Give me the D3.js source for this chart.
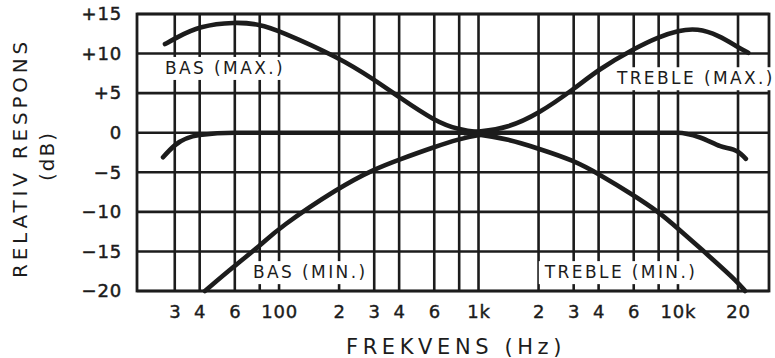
<!DOCTYPE html>
<html>
<head>
<meta charset="utf-8">
<script src="https://cdn.jsdelivr.net/npm/d3@7/dist/d3.min.js"></script>
<style>
  html, body { margin: 0; padding: 0; background: #fff; }
  svg { display: block; }
  text { font-family: "DejaVu Sans", sans-serif; fill: #1c1c1c; }
</style>
</head>
<body>
<div id="chart"></div>
<script>
// grid + tick labels
const gridFreqs = [30, 40, 60, 80, 100, 200, 300, 400, 600, 800, 1000, 2000, 3000, 4000, 6000, 8000, 10000, 20000];
const xTickFreqs = [30, 40, 60, 100, 200, 300, 400, 600, 1000, 2000, 3000, 4000, 6000, 10000, 20000];
const xTickLabels = ["3", "4", "6", "100", "2", "3", "4", "6", "1k", "2", "3", "4", "6", "10k", "20"];
const yTicks = [15, 10, 5, 0, -5, -10, -15, -20];

// curves (Hz, dB)
const basMaxFreq = [26.8, 30, 40, 60, 80, 100, 200, 300, 400, 600, 800, 1000, 1200];
const basMaxDb   = [11.2, 11.9, 13.5, 14.0, 13.7, 12.9, 9.5, 6.7, 4.5, 1.5, 0.35, 0.05, 0];

const trebleMaxFreq = [850, 1000, 1400, 2000, 3000, 4000, 6000, 8000, 10000, 12500, 16000, 20000, 22500];
const trebleMaxDb   = [0, 0.1, 0.6, 2.4, 5.5, 8.0, 10.6, 12.1, 12.9, 13.2, 12.3, 10.8, 10.1];

const basMinFreq = [42.5, 60, 80, 100, 200, 300, 400, 600, 800, 1000, 1200];
const basMinDb   = [-20, -16.8, -14.3, -12.0, -6.9, -4.6, -3.4, -1.8, -0.8, -0.25, -0.05];

const trebleMinFreq = [850, 1000, 1400, 2000, 3000, 4000, 6000, 8000, 10000, 14500, 20000, 21700];
const trebleMinDb   = [-0.05, -0.2, -0.8, -2.0, -3.5, -5.2, -7.9, -10.0, -12.1, -15.7, -18.9, -20];

const flatFreq = [26.2, 30, 40, 60, 100, 1000, 8000, 10000, 12900, 16300, 20000, 21900];
const flatDb   = [-3.1, -1.6, -0.3, 0, 0, 0, 0, 0, -0.6, -1.7, -2.4, -3.3];

const W = 775, H = 358;
const ink = "#1c1c1c";

const svg = d3.select("#chart").append("svg")
  .attr("width", W)
  .attr("height", H);

const x = d3.scaleLog().domain([19.4, 28600]).range([137, 769]);
const y = d3.scaleLinear().domain([-20, 15]).range([291, 14]);

// vertical grid
svg.append("g")
  .selectAll("line")
  .data(gridFreqs)
  .enter().append("line")
  .attr("x1", d => x(d)).attr("x2", d => x(d))
  .attr("y1", y(15)).attr("y2", y(-20))
  .attr("stroke", ink)
  .attr("stroke-width", 2.6);

// horizontal grid
svg.append("g")
  .selectAll("line")
  .data(yTicks)
  .enter().append("line")
  .attr("x1", x.range()[0]).attr("x2", x.range()[1])
  .attr("y1", d => y(d)).attr("y2", d => y(d))
  .attr("stroke", ink)
  .attr("stroke-width", 2.6);

// frame
svg.append("rect")
  .attr("x", x.range()[0]).attr("y", y(15))
  .attr("width", x.range()[1] - x.range()[0])
  .attr("height", y(-20) - y(15))
  .attr("fill", "none")
  .attr("stroke", ink)
  .attr("stroke-width", 2.8);

// Y axis labels
const fmtDb = d => d > 0 ? "+" + d : (d < 0 ? "\u2212" + Math.abs(d) : "0");
const yAxis = svg.append("g")
  .attr("transform", `translate(${x.range()[0]},0)`)
  .call(d3.axisLeft(y).tickValues(yTicks).tickSize(0).tickPadding(15).tickFormat(fmtDb));
yAxis.select(".domain").remove();
yAxis.selectAll("text")
  .attr("font-family", "DejaVu Sans")
  .attr("font-size", 18)
  .attr("letter-spacing", 0.8)
  .attr("fill", ink)
  .attr("stroke", ink)
  .attr("stroke-width", 0.5);

// X axis labels
const xAxis = svg.append("g")
  .attr("transform", `translate(0,${y(-20)})`)
  .call(d3.axisBottom(x).tickValues(xTickFreqs).tickSize(0).tickPadding(14)
    .tickFormat((d, i) => xTickLabels[i]));
xAxis.select(".domain").remove();
xAxis.selectAll("text")
  .attr("font-family", "DejaVu Sans")
  .attr("font-size", 18)
  .attr("letter-spacing", 0.8)
  .attr("fill", ink)
  .attr("stroke", ink)
  .attr("stroke-width", 0.4);

// axis titles
svg.append("text")
  .attr("transform", `translate(27,158) rotate(-90)`)
  .attr("text-anchor", "middle")
  .attr("font-size", 20)
  .attr("letter-spacing", 3.8)
  .text("RELATIV RESPONS");

svg.append("text")
  .attr("transform", `translate(54,156) rotate(-90)`)
  .attr("text-anchor", "middle")
  .attr("font-size", 20)
  .attr("letter-spacing", 2)
  .text("(dB)");

svg.append("text")
  .attr("x", 456)
  .attr("y", 354)
  .attr("text-anchor", "middle")
  .attr("font-size", 21)
  .attr("letter-spacing", 4.6)
  .text("FREKVENS (Hz)");

// curve labels with white boxes over the grid
const notes = [
  { text: "BAS (MAX.)", f: 26.8, db: 8.2 },
  { text: "TREBLE (MAX.)", f: 4940, db: 6.9 },
  { text: "BAS (MIN.)", f: 74, db: -17.6 },
  { text: "TREBLE (MIN.)", f: 2150, db: -17.6 }
];
const noteG = svg.append("g");
notes.forEach(n => {
  const g = noteG.append("g");
  const t = g.append("text")
    .attr("x", x(n.f))
    .attr("y", y(n.db))
    .attr("dy", "0.36em")
    .attr("font-size", 17)
    .attr("letter-spacing", 2.4)
    .text(n.text);
  const bb = t.node().getBBox();
  g.insert("rect", "text")
    .attr("x", bb.x - 5)
    .attr("y", bb.y - 1)
    .attr("width", bb.width + 6)
    .attr("height", bb.height + 3)
    .attr("fill", "#fff");
});

// curves
const smooth = d3.line()
  .x(d => x(d[0]))
  .y(d => y(d[1]))
  .curve(d3.curveBasis);

const flatLine = d3.line()
  .x(d => x(d[0]))
  .y(d => y(d[1]))
  .curve(d3.curveMonotoneX);

const toPts = (fs, ds) => fs.map((f, i) => [f, ds[i]]);

const curves = [
  { pts: toPts(basMaxFreq, basMaxDb), gen: smooth },
  { pts: toPts(trebleMaxFreq, trebleMaxDb), gen: smooth },
  { pts: toPts(basMinFreq, basMinDb), gen: smooth },
  { pts: toPts(trebleMinFreq, trebleMinDb), gen: smooth },
  { pts: toPts(flatFreq, flatDb), gen: flatLine }
];

svg.append("g")
  .selectAll("path")
  .data(curves)
  .enter().append("path")
  .attr("d", d => d.gen(d.pts))
  .attr("fill", "none")
  .attr("stroke", ink)
  .attr("stroke-width", 4.6)
  .attr("stroke-linecap", "round");
</script>
</body>
</html>
